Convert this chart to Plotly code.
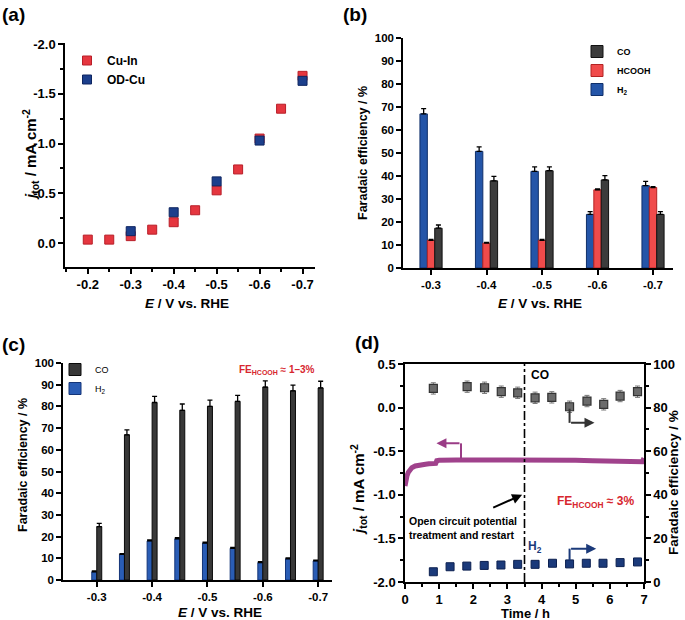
import plotly.graph_objects as go

W, H = 685, 620
FONT = "Liberation Sans"

# ---------------- data ----------------
# (a) total current density vs potential
A_POT_CUIN = [-0.2, -0.25, -0.3, -0.35, -0.4, -0.45, -0.5, -0.55, -0.6, -0.65, -0.7]
A_J_CUIN = [-0.035, -0.035, -0.07, -0.135, -0.21, -0.33, -0.53, -0.74, -1.05, -1.35, -1.68]
A_POT_ODCU = [-0.3, -0.4, -0.5, -0.6, -0.7]
A_J_ODCU = [-0.12, -0.31, -0.62, -1.03, -1.63]
A_XTICKS = [-0.2, -0.3, -0.4, -0.5, -0.6, -0.7]
A_XTICKTEXT = ["-0.2", "-0.3", "-0.4", "-0.5", "-0.6", "-0.7"]
A_YTICKS = [0.0, -0.5, -1.0, -1.5, -2.0]
A_YTICKTEXT = ["0.0", "-0.5", "-1.0", "-1.5", "-2.0"]

# (b) Faradaic efficiencies, OD-Cu
B_POT = [-0.3, -0.4, -0.5, -0.6, -0.7]
B_H2 = [67.0, 50.7, 42.0, 23.3, 35.8]
B_H2_ERR = [2.3, 2.0, 2.0, 1.2, 1.9]
B_HCOOH = [12.0, 10.8, 12.0, 34.0, 35.0]
B_HCOOH_ERR = [0.4, 0.3, 0.4, 0.4, 0.4]
B_CO = [17.3, 37.9, 42.3, 38.3, 23.3]
B_CO_ERR = [1.4, 1.9, 1.7, 1.9, 1.2]

# (c) Faradaic efficiencies, Cu-In
C_POT = [-0.3, -0.35, -0.4, -0.45, -0.5, -0.55, -0.6, -0.65, -0.7]
C_H2 = [3.8, 11.8, 18.0, 19.0, 17.0, 14.6, 8.0, 9.8, 8.8]
C_H2_ERR = [0.4, 0.4, 0.5, 0.5, 0.5, 0.4, 0.4, 0.4, 0.4]
C_CO = [24.6, 66.9, 81.8, 78.2, 80.0, 82.3, 88.9, 87.2, 88.5]
C_CO_ERR = [1.5, 2.3, 2.8, 2.9, 2.9, 2.8, 2.9, 2.6, 3.1]

BC_XTICKS = [-0.3, -0.4, -0.5, -0.6, -0.7]
BC_XTICKTEXT = ["-0.3", "-0.4", "-0.5", "-0.6", "-0.7"]

# (d) long-term electrolysis
D_T_J = [0.0, 0.03, 0.06, 0.1, 0.15, 0.2, 0.3, 0.4, 0.5, 0.6, 0.7, 0.8, 0.9, 0.93,
         1.0, 1.5, 2.0, 2.5, 3.0, 3.5, 4.0, 4.5, 5.0, 5.5, 6.0, 6.5, 6.95, 7.0]
D_J = [-0.90, -0.82, -0.78, -0.74, -0.71, -0.69, -0.67, -0.66, -0.65, -0.65, -0.645,
       -0.64, -0.64, -0.61, -0.605, -0.60, -0.60, -0.595, -0.60, -0.60, -0.60, -0.60,
       -0.605, -0.61, -0.61, -0.615, -0.62, -0.58]
D_T_CO = [0.83, 1.82, 2.33, 2.82, 3.30, 3.81, 4.30, 4.82, 5.33, 5.82, 6.30, 6.81]
D_FE_CO = [88.8, 89.6, 89.1, 87.3, 86.8, 84.5, 84.7, 80.4, 83.0, 81.5, 85.3, 87.3]
D_FE_CO_ERR = [2.6, 2.6, 2.6, 2.6, 2.6, 2.6, 2.6, 2.6, 2.6, 2.6, 2.6, 2.6]
D_T_H2 = [0.83, 1.32, 1.81, 2.32, 2.81, 3.30, 3.81, 4.32, 4.82, 5.31, 5.80, 6.30, 6.81]
D_FE_H2 = [4.7, 7.0, 7.3, 7.6, 7.8, 8.1, 8.1, 8.6, 8.3, 8.6, 8.6, 8.9, 9.2]
D_YL_TICKS = [0.5, 0.0, -0.5, -1.0, -1.5, -2.0]
D_YL_TICKTEXT = ["0.5", "0.0", "-0.5", "-1.0", "-1.5", "-2.0"]

# ---------------- helpers ----------------
def px(x):
    return x / W

def py(y):
    return 1 - y / H

def bfont(size, color="black", weight="bold"):
    return dict(family=FONT, size=size, color=color, weight=weight)

def axis_style(size, **kw):
    d = dict(showline=True, linecolor="black", linewidth=1.5, ticks="outside",
             ticklen=5, tickwidth=1.5, tickcolor="black", showgrid=False,
             zeroline=False, tickfont=bfont(size), automargin=False, ticklabelstandoff=0)
    d.update(kw)
    return d

fig = go.Figure()

# (a)
fig.add_trace(go.Scatter(x=A_POT_CUIN, y=A_J_CUIN, mode="markers", name="Cu-In",
                         marker=dict(symbol="square", size=9, color="#e5363f",
                                     line=dict(color="#b81e28", width=1)),
                         xaxis="x", yaxis="y", legend="legend"))
fig.add_trace(go.Scatter(x=A_POT_ODCU, y=A_J_ODCU, mode="markers", name="OD-Cu",
                         marker=dict(symbol="square", size=9, color="#1c3f8c",
                                     line=dict(color="#0e2560", width=1)),
                         xaxis="x", yaxis="y", legend="legend"))

# (b) bars: H2 left, HCOOH middle, CO right (x axis reversed)
bw_b = 0.0133
err_style = dict(type="data", symmetric=False, color="black", thickness=1.3, width=2.5)
for name, vals, errs, fill, edge, off in [
    ("H<sub>2</sub>", B_H2, B_H2_ERR, "#2455a8", "#0f2f6a", bw_b * 0.5),
    ("HCOOH", B_HCOOH, B_HCOOH_ERR, "#f04b4b", "#b32323", -bw_b * 0.5),
    ("CO", B_CO, B_CO_ERR, "#3c3c3c", "#111111", -bw_b * 1.5),
]:
    fig.add_trace(go.Bar(x=B_POT, y=vals, name=name, width=bw_b, offset=off,
                         marker=dict(color=fill, line=dict(color=edge, width=1)),
                         error_y=dict(err_style, array=errs, arrayminus=[0] * len(errs)),
                         xaxis="x2", yaxis="y2", legend="legend2"))

# (c) bars: H2 left, CO right
bw_c = 0.009
for name, vals, errs, fill, edge, off in [
    ("H<sub>2</sub>", C_H2, C_H2_ERR, "#2a5db5", "#143578", 0.0),
    ("CO", C_CO, C_CO_ERR, "#383838", "#0a0a0a", -bw_c),
]:
    fig.add_trace(go.Bar(x=C_POT, y=vals, name=name, width=bw_c, offset=off,
                         marker=dict(color=fill, line=dict(color=edge, width=1)),
                         error_y=dict(err_style, array=errs, arrayminus=[0] * len(errs)),
                         xaxis="x3", yaxis="y3", legend="legend3"))

# (d)
fig.add_trace(go.Scatter(x=D_T_J, y=D_J, mode="lines", name="j_tot", showlegend=False,
                         line=dict(color="#a0428c", width=5),
                         xaxis="x4", yaxis="y4"))
fig.add_trace(go.Scatter(x=D_T_CO, y=D_FE_CO, mode="markers", name="CO", showlegend=False,
                         marker=dict(symbol="square", size=8, color="#6a6a6a",
                                     line=dict(color="#333333", width=1.2)),
                         error_y=dict(type="data", array=D_FE_CO_ERR, color="#777777",
                                      thickness=1, width=2.5),
                         xaxis="x4", yaxis="y5"))
fig.add_trace(go.Scatter(x=D_T_H2, y=D_FE_H2, mode="markers", name="H2", showlegend=False,
                         marker=dict(symbol="square", size=8, color="#1b3a7a",
                                     line=dict(color="#0c2050", width=1)),
                         xaxis="x4", yaxis="y5"))

# ---------------- axes ----------------
layout = dict(
    width=W, height=H, margin=dict(l=0, r=0, t=0, b=0, autoexpand=False),
    paper_bgcolor="white", plot_bgcolor="white", barmode="overlay",
    font=dict(family=FONT, color="black"),
    xaxis=axis_style(13, domain=[px(65), px(315)], anchor="y", range=[-0.147, -0.729],
                     tickvals=A_XTICKS, ticktext=A_XTICKTEXT,
                     minor=dict(ticks="outside", ticklen=3, tickcolor="black", dtick=0.05, tick0=0)),
    yaxis=axis_style(13, domain=[py(267), py(43)], anchor="x", range=[0.24, -2.01],
                     tickvals=A_YTICKS, ticktext=A_YTICKTEXT,
                     minor=dict(ticks="outside", ticklen=3, tickcolor="black", dtick=0.25, tick0=0)),
    xaxis2=axis_style(11.5, domain=[px(403), px(673)], anchor="y2", range=[-0.2495, -0.736],
                      tickvals=BC_XTICKS, ticktext=BC_XTICKTEXT),
    yaxis2=axis_style(11.5, domain=[py(268), py(38)], anchor="x2", range=[0, 100],
                      tickmode="linear", tick0=0, dtick=10),
    xaxis3=axis_style(11.5, domain=[px(63), px(332)], anchor="y3", range=[-0.239, -0.725],
                      tickvals=BC_XTICKS, ticktext=BC_XTICKTEXT),
    yaxis3=axis_style(11.5, domain=[py(580), py(363)], anchor="x3", range=[0, 100],
                      tickmode="linear", tick0=0, dtick=10),
    xaxis4=axis_style(13, domain=[px(405), px(644)], anchor="y4", range=[0, 7],
                      tickmode="linear", tick0=0, dtick=1, mirror=True,
                      minor=dict(ticks="outside", ticklen=3, tickcolor="black", dtick=0.5)),
    yaxis4=axis_style(13, domain=[py(582), py(364)], anchor="x4", range=[-2.0, 0.5],
                      tickvals=D_YL_TICKS, ticktext=D_YL_TICKTEXT,
                      minor=dict(ticks="outside", ticklen=3, tickcolor="black", dtick=0.25, tick0=0)),
    yaxis5=axis_style(13, anchor="x4", overlaying="y4", side="right", range=[0, 100],
                      tickmode="linear", tick0=0, dtick=20,
                      minor=dict(ticks="outside", ticklen=3, tickcolor="black", dtick=10)),
    legend=dict(x=px(67), y=py(46), xanchor="left", yanchor="top", bgcolor="rgba(0,0,0,0)",
                font=bfont(12), tracegroupgap=0, itemwidth=30),
    legend2=dict(x=px(577), y=py(37), xanchor="left", yanchor="top", bgcolor="rgba(0,0,0,0)",
                 font=bfont(9), traceorder="reversed", tracegroupgap=0),
    legend3=dict(x=px(55), y=py(355), xanchor="left", yanchor="top", bgcolor="rgba(0,0,0,0)",
                 font=bfont(9, weight="normal"), traceorder="reversed", tracegroupgap=0),
)
fig.update_layout(**layout)

# ---------------- annotations ----------------
ann = []

def ptext(text, x, y, size, color="black", angle=0, xanchor="center", yanchor="middle",
          align="center", weight="bold"):
    ann.append(dict(text=text, x=px(x), y=py(y), xref="paper", yref="paper",
                    showarrow=False, font=bfont(size, color, weight), textangle=angle,
                    xanchor=xanchor, yanchor=yanchor, align=align))

ptext("(a)", 0, 15, 19, xanchor="left")
ptext("(b)", 341, 15, 19, xanchor="left")
ptext("(c)", 0, 344, 19, xanchor="left")
ptext("(d)", 353, 342, 19, xanchor="left")

E_TITLE = "<i>E</i> / V vs. RHE"
J_TITLE = "<i>j</i><sub>tot</sub> / mA cm<sup>-2</sup>"
FE_TITLE = "Faradaic efficiency / %"
ptext(E_TITLE, 187, 303, 13.5)
ptext(J_TITLE, 30, 155, 15, angle=-90)
ptext(E_TITLE, 540, 303, 13.5)
ptext(FE_TITLE, 363, 153, 12.5, angle=-90)
ptext(E_TITLE, 220, 612, 13.5)
ptext(FE_TITLE, 23, 465, 12.5, angle=-90)
ptext("Time / h", 525, 613, 13)
ptext(J_TITLE, 358, 490, 15, angle=-90)
ptext(FE_TITLE, 673, 483, 13.5, angle=-90)

RED = "#d7262e"
ptext("FE<sub>HCOOH</sub> ≈ 1–3%", 277, 370, 10, color=RED)
ptext("FE<sub>HCOOH</sub> ≈ 3%", 595, 502, 12, color=RED)
ptext("CO", 540, 375, 12)
ptext("H<sub>2</sub>", 535, 547, 12, color="#1b3a7a")
ptext("Open circuit potential<br>treatment and restart", 407, 528, 10.5,
      xanchor="left", align="left")

def arrow(x, y, ax, ay, yref, color):
    ann.append(dict(x=x, y=y, ax=ax, ay=ay, xref="x4", yref=yref, axref="x4", ayref=yref,
                    text="", showarrow=True, arrowhead=2, arrowsize=1, arrowwidth=2,
                    arrowcolor=color))

PURPLE = "#9a3c86"
arrow(3.43, -1.0, 2.54, -1.155, "y4", "black")
arrow(0.92, -0.41, 1.64, -0.41, "y4", PURPLE)
arrow(5.55, 73.0, 4.82, 73.0, "y5", "#333333")
arrow(5.6, 15.3, 4.82, 15.3, "y5", "#1b3a7a")

shapes = [
    dict(type="line", xref="x4", yref="y4 domain", x0=3.5, x1=3.5, y0=0, y1=1,
         line=dict(color="black", width=1.6, dash="dashdot")),
    dict(type="line", xref="x4", yref="y4", x0=1.64, x1=1.64, y0=-0.585, y1=-0.41,
         line=dict(color=PURPLE, width=2)),
    dict(type="line", xref="x4", yref="y5", x0=4.82, x1=4.82, y0=79.5, y1=73.0,
         line=dict(color="#333333", width=2)),
    dict(type="line", xref="x4", yref="y5", x0=4.82, x1=4.82, y0=10.0, y1=15.3,
         line=dict(color="#1b3a7a", width=2)),
]

fig.update_layout(annotations=ann, shapes=shapes)
fig.write_html("out.html", config={"displayModeBar": False},
               post_script="document.body.style.margin='0';document.body.style.overflow='hidden';")
